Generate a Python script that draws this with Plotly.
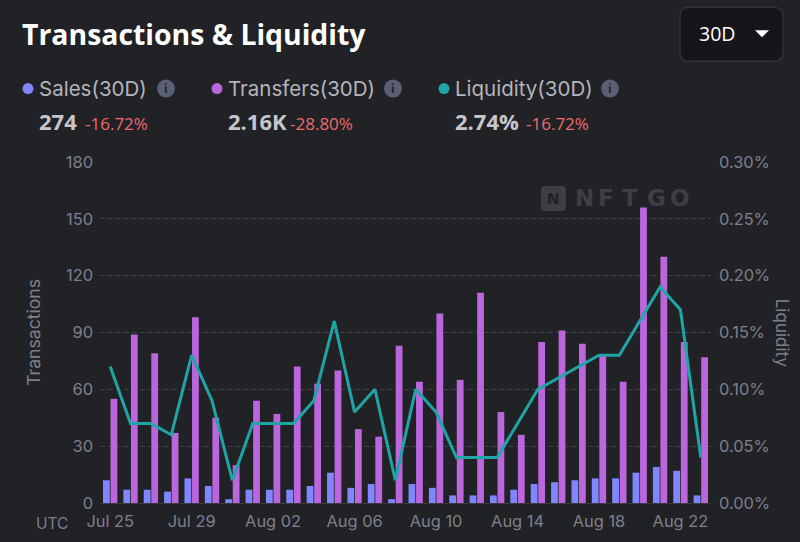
import plotly.graph_objects as go

dates = ["Jul 25","Jul 26","Jul 27","Jul 28","Jul 29","Jul 30","Jul 31","Aug 01","Aug 02","Aug 03",
         "Aug 04","Aug 05","Aug 06","Aug 07","Aug 08","Aug 09","Aug 10","Aug 11","Aug 12","Aug 13",
         "Aug 14","Aug 15","Aug 16","Aug 17","Aug 18","Aug 19","Aug 20","Aug 21","Aug 22","Aug 23"]
sales = [12,7,7,6,13,9,2,7,7,7,9,16,8,10,2,10,8,4,4,4,7,10,11,12,13,13,16,19,17,4]
transfers = [55,89,79,37,98,45,20,54,47,72,63,70,39,35,83,64,100,65,111,48,36,85,91,84,78,64,156,130,85,77]
liquidity = [0.12,0.07,0.07,0.06,0.13,0.09,0.02,0.07,0.07,0.07,0.09,0.16,0.08,0.10,0.02,0.10,0.08,0.04,0.04,0.04,
             0.07,0.10,0.11,0.12,0.13,0.13,0.16,0.19,0.17,0.04]
tick_labels = ["Jul 25","Jul 29","Aug 02","Aug 06","Aug 10","Aug 14","Aug 18","Aug 22"]
left_ticks = [0,30,60,90,120,150,180]
right_ticks = [0,0.05,0.10,0.15,0.20,0.25,0.30]
right_labels = ["0.00%","0.05%","0.10%","0.15%","0.20%","0.25%","0.30%"]

W, H = 800, 542
L, R, T, B = 100, 711, 162, 503.5
BG = "#212226"
AXIS = "#7f7f8c"
SALES = "#7f86ff"
TRANSFERS = "#bc66dd"
LIQ = "#1fa5a5"
FONT = "Inter"
HEAD = "Open Sans"

px = lambda x: (x - L) / (R - L)
py = lambda y: (B - y) / (B - T)

fig = go.Figure()
fig.add_bar(x=dates, y=sales, name="Sales(30D)", marker=dict(color=SALES, line_width=0))
fig.add_bar(x=dates, y=transfers, name="Transfers(30D)", marker=dict(color=TRANSFERS, line_width=0))
fig.add_scatter(x=dates, y=liquidity, name="Liquidity(30D)", yaxis="y2", mode="lines",
                line=dict(color=LIQ, width=3), cliponaxis=False)

shapes, ann = [], []

def text(x, y, s, size, color, weight=400, family=FONT, anchor="left", angle=0):
    ann.append(dict(xref="paper", yref="paper", x=px(x), y=py(y), text=s, showarrow=False,
                    xanchor=anchor, yanchor="middle", align=anchor, textangle=angle,
                    borderpad=0, borderwidth=0,
                    font=dict(family=family, size=size, color=color, weight=weight)))

def dot(cx, cy, r, color):
    shapes.append(dict(type="circle", xref="paper", yref="paper", x0=px(cx-r), x1=px(cx+r),
                       y0=py(cy+r), y1=py(cy-r), fillcolor=color, line_width=0, layer="above"))

def pth(points, fill, line=None):
    shapes.append(dict(type="path", xref="paper", yref="paper", path=points, fillcolor=fill,
                       line=dict(color=line or fill, width=1.5 if line else 0), layer="above"))

def P(x, y):
    return f"{px(x):.5f},{py(y):.5f}"

def rrect(x0, x1, y0, y1, r):
    return (f"M{P(x0+r,y0)} L{P(x1-r,y0)} Q{P(x1,y0)} {P(x1,y0+r)} L{P(x1,y1-r)} Q{P(x1,y1)} {P(x1-r,y1)} "
            f"L{P(x0+r,y1)} Q{P(x0,y1)} {P(x0,y1-r)} L{P(x0,y0+r)} Q{P(x0,y0)} {P(x0+r,y0)} Z")

# title and range selector
text(22, 34, "Transactions &amp; Liquidity", 28.4, "#ffffff", 700, HEAD)
pth(rrect(680, 783, 7, 61, 9), "#16161a", "#30323a")
text(699, 33.5, "30D", 19.5, "#ffffff", 400, HEAD)
pth(f"M{P(755,30)} L{P(769,30)} L{P(762,37)} Z", "#ffffff")

# legend header
for cx, col, name, icon, val, vx, pct, pctx in [
    (28, SALES, "Sales(30D)", 166, "274", 39, "-16.72%", 85),
    (217, TRANSFERS, "Transfers(30D)", 393, "2.16K", 228, "-28.80%", 290),
    (444, LIQ, "Liquidity(30D)", 610, "2.74%", 455, "-16.72%", 526),
]:
    dot(cx, 88.5, 5.5, col)
    text(cx + 11, 88.5, name, 20.5, "#b4b4bc", 400, FONT)
    dot(icon, 88.5, 9, "#5a5f75")
    text(icon, 88.5, "i", 12, "#24252b", 700, HEAD, "center")
    text(vx, 121, val, 22, "#c6c6cc", 700, HEAD)
    text(pctx, 123, pct, 17, "#ef6a6a", 500, HEAD)

# watermark
pth(rrect(541, 566, 186, 211, 4), "#3e3f45")
text(553.5, 198.5, "N", 15, "#212226", 800, HEAD, "center")
for letter, lx in zip("NFTGO", [584, 606, 630, 656, 680]):
    text(lx, 198.5, letter, 23, "#3e3f45", 700, "DejaVu Sans", "center")

text(36, 524, "UTC", 15.5, AXIS, 400, FONT)

# axis titles
text(34, 333, "Transactions", 17.6, AXIS, 400, FONT, "center", -90)
text(782, 333, "Liquidity", 17, AXIS, 400, FONT, "center", 90)

fig.update_layout(
    width=W, height=H, autosize=False,
    margin=dict(l=L, r=W-R, t=T, b=H-B),
    paper_bgcolor=BG, plot_bgcolor=BG,
    barmode="group", bargap=0.26, bargroupgap=0.1,
    showlegend=False,
    font=dict(family=FONT, color=AXIS, size=16),
    shapes=shapes, annotations=ann,
    xaxis=dict(type="category", categoryorder="array", categoryarray=dates,
               tickmode="array", tickvals=tick_labels, ticktext=tick_labels,
               showgrid=False, zeroline=False, showline=True, linecolor="#3a3b41", linewidth=1,
               ticks="", tickfont=dict(size=16.4, color=AXIS), ticklabelstandoff=3),
    yaxis=dict(range=[0, 180], tickmode="array", tickvals=left_ticks, showline=False,
               gridcolor="#42434a", griddash="5px,3px", gridwidth=1, zeroline=False,
               ticks="", tickfont=dict(size=16.4, color=AXIS), ticklabelstandoff=6),
    yaxis2=dict(range=[0, 0.30], overlaying="y", side="right", tickmode="array", tickvals=right_ticks,
                ticktext=right_labels, showgrid=False, zeroline=False, showline=False,
                ticks="", tickfont=dict(size=16.4, color=AXIS), ticklabelstandoff=7),
)

fig.write_html("out.html", config=dict(displayModeBar=False),
               post_script="document.body.style.margin='0';")
